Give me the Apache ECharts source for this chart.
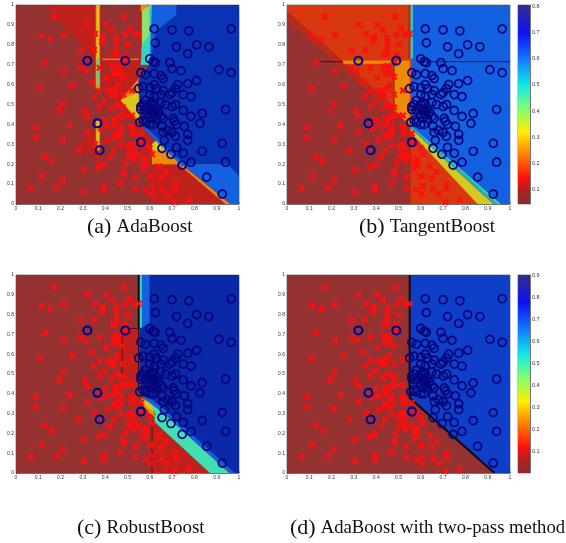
<!DOCTYPE html>
<html><head><meta charset="utf-8">
<style>html,body{margin:0;padding:0;background:#fff}#c{width:566px;height:543px}</style>
<script src="https://cdn.jsdelivr.net/npm/echarts@6/dist/echarts.min.js"></script>
</head><body><div id="c"></div>
<script>
const crosses=[[.17,.94],[.485,.94],[.32,.9],[.405,.9],[.43,.875],[.51,.88],[.115,.845],[.155,.83],[.215,.85],[.355,.855],[.39,.84],[.39,.825],[.385,.815],[.45,.835],[.45,.81],[.45,.79],[.45,.77],[.45,.755],[.49,.85],[.53,.85],[.55,.855],[.5,.8],[.29,.77],[.35,.775],[.435,.75],[.49,.75],[.5,.73],[.48,.72],[.13,.71],[.215,.67],[.29,.685],[.315,.67],[.375,.685],[.435,.69],[.45,.695],[.46,.685],[.45,.655],[.44,.66],[.46,.655],[.48,.64],[.405,.635],[.34,.61],[.255,.595],[.11,.58],[.46,.595],[.45,.58],[.52,.57],[.415,.57],[.43,.565],[.425,.55],[.44,.545],[.375,.565],[.35,.54],[.48,.55],[.21,.505],[.195,.47],[.31,.47],[.32,.44],[.395,.515],[.375,.49],[.43,.48],[.45,.5],[.47,.49],[.48,.485],[.4,.425],[.455,.435],[.44,.43],[.47,.44],[.5,.445],[.52,.445],[.48,.45],[.09,.385],[.09,.335],[.24,.395],[.32,.36],[.38,.38],[.41,.39],[.45,.41],[.44,.395],[.47,.39],[.47,.37],[.47,.355],[.46,.335],[.44,.35],[.44,.335],[.515,.39],[.525,.38],[.52,.35],[.53,.36],[.56,.355],[.21,.325],[.355,.3],[.28,.27],[.41,.32],[.47,.295],[.44,.27],[.51,.3],[.52,.3],[.53,.28],[.505,.285],[.57,.31],[.58,.3],[.6,.28],[.13,.24],[.16,.215],[.42,.235],[.395,.195],[.37,.185],[.305,.17],[.515,.25],[.505,.245],[.52,.235],[.53,.22],[.49,.205],[.53,.25],[.55,.24],[.58,.23],[.57,.21],[.585,.21],[.57,.175],[.585,.19],[.61,.25],[.48,.165],[.485,.15],[.535,.135],[.6,.14],[.605,.14],[.64,.19],[.67,.16],[.65,.13],[.115,.14],[.21,.12],[.185,.085],[.065,.08],[.305,.06],[.395,.09],[.395,.07],[.47,.105],[.535,.08],[.61,.09],[.58,.07],[.605,.05],[.655,.075],[.68,.05],[.715,.1],[.715,.075],[.71,.01],[.775,.02]];
const circles=[[.62,.88],[.7,.875],[.775,.87],[.965,.88],[.625,.81],[.72,.79],[.81,.8],[.865,.79],[.77,.755],[.6,.73],[.625,.71],[.615,.715],[.69,.71],[.7,.68],[.74,.67],[.91,.675],[.965,.66],[.56,.66],[.58,.65],[.62,.655],[.65,.645],[.66,.63],[.81,.62],[.77,.605],[.725,.6],[.715,.58],[.7,.56],[.55,.58],[.57,.59],[.6,.585],[.62,.6],[.63,.58],[.66,.57],[.65,.55],[.69,.55],[.75,.55],[.785,.54],[.6,.55],[.62,.54],[.58,.52],[.61,.51],[.56,.49],[.57,.5],[.6,.5],[.62,.5],[.65,.51],[.67,.5],[.7,.49],[.715,.5],[.56,.475],[.58,.47],[.6,.48],[.61,.47],[.62,.47],[.63,.48],[.6,.45],[.62,.45],[.64,.46],[.61,.43],[.63,.43],[.65,.44],[.66,.43],[.75,.47],[.835,.455],[.94,.475],[.785,.44],[.57,.42],[.555,.41],[.58,.41],[.6,.4],[.615,.4],[.705,.43],[.71,.415],[.72,.4],[.755,.39],[.825,.405],[.655,.39],[.68,.37],[.66,.36],[.7,.36],[.77,.35],[.715,.34],[.77,.32],[.665,.32],[.925,.305],[.72,.285],[.655,.28],[.695,.25],[.75,.255],[.835,.265],[.94,.21],[.785,.21],[.745,.195],[.855,.135],[.925,.05]];
const outliers=[[.32,.72],[.365,.405],[.375,.27],[.49,.72],[.56,.31]];
const barTicksB=[.1,.2,.3,.4,.5,.6,.7,.8];
const barTicksD=[.1,.2,.3,.4,.5,.6,.7,.8,.9];
const captions=[['(a)','AdaBoost'],['(b)','TangentBoost'],['(c)','RobustBoost'],['(d)','AdaBoost with two-pass method']];

const BR='#963131',RD='#bf201c',OR='#ee8a06',YE='#d8c81e',GN='#90e070',TE='#30d8c0',LB='#1360e0',DB='#0a32b4';
const regionsA=[
 [BR,[[0,0],[1,0],[1,1],[0,1]]],
 [RD,[[.13,1],[.355,1],[.355,.72]]],
 [RD,[[.38,.715],[.55,.715],[.55,.40],[.41,.55],[.38,.58]]],
 [BR,[[.38,.6],[.41,.55],[.38,.5]]],
 [BR,[[.38,.68],[.44,.68],[.38,.63]]],
 [OR,[[.47,.52],[.55,.63],[.55,.41]]],
 [YE,[[.47,.52],[.55,.56],[.55,.43]]],
 [RD,[[.25,.73],[.55,.73],[.55,.715],[.26,.715]]],
 [OR,[[.37,.73],[.55,.73],[.55,.725],[.37,.725]]],
 [RD,[[.35,.78],[.35,1],[.385,1],[.385,.58],[.35,.6]]],
 [OR,[[.358,1],[.376,1],[.376,.58],[.358,.58]]],
 [YE,[[.362,1],[.372,1],[.372,.6],[.362,.6]]],
 [TE,[[.364,.73],[.374,.73],[.374,.6],[.364,.6]]],
 [RD,[[.25,.27],[.355,.38],[.355,.25],[.33,.25]]],
 [RD,[[.355,.42],[.38,.42],[.38,.2],[.355,.2]]],
 [OR,[[.358,.42],[.376,.42],[.376,.27],[.358,.27]]],
 [YE,[[.362,.42],[.372,.42],[.372,.3],[.362,.3]]],
 [RD,[[.55,.41],[.55,.25],[.61,.25],[.61,.35]]],
 [RD,[[.61,0],[.61,.2],[.74,.2],[.94,0]]],
 [OR,[[.61,.2],[.745,.2],[.68,.27],[.61,.27]]],
 [YE,[[.61,.27],[.68,.27],[.63,.32],[.61,.3]]],
 [OR,[[.74,.2],[.96,0],[.94,0],[.73,.2]]],
 [OR,[[.55,.415],[.62,.34],[.63,.34],[.56,.41]]],
 [RD,[[.55,.73],[.565,.73],[.565,1],[.55,1]]],
 [OR,[[.56,1],[.59,1],[.58,.97],[.56,.97]]],
 [GN,[[.565,.97],[.6,1],[.6,.72],[.565,.72]]],
 [TE,[[.565,.8],[.6,.85],[.6,.7],[.56,.7]]],
 [TE,[[.6,1],[.615,1],[.615,.7],[.6,.7]]],
 [LB,[[.61,1],[.72,1],[.72,.95],[.63,.87],[.62,.6],[.6,.7]]],
 [DB,[[.63,.87],[.72,.95],[.72,1],[1,1],[1,.14],[.95,.2],[.745,.2],[.56,.41],[.55,.62],[.6,.7]]],
 [LB,[[.745,.2],[.95,.2],[1,.14],[1,0],[.965,0]]],
 [LB,[[.56,.41],[.58,.39],[.755,.2],[.745,.19],[.58,.37]]]
];
const regionsB=[
 ['#d9380f',[[0,0],[1,0],[1,1],[0,1]]],
 [BR,[[0,.92],[.55,.39],[.55,0],[0,0]]],
 ['#b82a1c',[[0,.97],[.55,.42],[.55,.39],[0,.92]]],
 ['#a8301c',[[.545,1],[.555,1],[.555,.73],[.545,.73]]],
 ['#a8301c',[[.545,.4],[.555,.4],[.555,0],[.545,0]]],
 [OR,[[.48,.72],[.55,.72],[.55,.40],[.48,.47]]],
 [OR,[[.25,.72],[.48,.72],[.48,.705],[.255,.705]]],
 [YE,[[.555,.36],[.855,0],[.925,0],[.555,.38]]],
 [TE,[[.555,.38],[.925,0],[.96,0],[.555,.4]]],
 ['#30a8a0',[[.555,.38],[.925,0],[.945,0],[.555,.39]]],
 [TE,[[.555,1],[.565,1],[.565,.73],[.555,.73]]],
 [LB,[[.565,1],[1,1],[1,0],[.96,0],[.56,.39],[.56,.73],[.565,.73]]]
];
const regionsC=[
 [BR,[[0,0],[1,0],[1,1],[0,1]]],
 [RD,[[.475,.73],[.55,.73],[.55,.41],[.475,.5]]],
 [RD,[[.61,0],[.61,.26],[.87,0]]],
 [TE,[[.555,1],[.565,1],[.565,.73],[.555,.73]]],
 [LB,[[.565,1],[.6,1],[.6,.7],[.565,.7]]],
 ['#0a28a8',[[.6,1],[1,1],[1,0],[.98,0],[.655,.33],[.56,.41],[.555,.73],[.6,.75]]],
 [LB,[[.575,.38],[.655,.3],[.96,0],[.98,0],[.655,.33],[.56,.41]]],
 ['#40e0b0',[[.58,.37],[.625,.3],[.62,.26],[.87,0],[.955,0],[.65,.31]]],
 [OR,[[.565,.38],[.61,.33],[.625,.28],[.59,.31],[.56,.36]]],
 [YE,[[.575,.37],[.61,.34],[.615,.31],[.58,.34]]]
];
const regionsD=[
 [BR,[[0,0],[1,0],[1,1],[0,1]]],
 ['#0f3fc8',[[.55,1],[1,1],[1,0],[.93,0],[.55,.38]]]
];
const linesA=[];
const linesC=[[.6,[[.475,.73],[.555,.73]]],[.6,[[.475,.73],[.475,.47]]],[.6,[[.61,.27],[.61,0]]],[1.8,[[.55,1],[.55,.73]]],[.9,[[.55,.73],[.55,.42]]]];
const linesB=[[.7,[[.15,.715],[.25,.715]]],[.7,[[.6,.715],[1,.715]]],[.6,[[.48,.72],[.48,.47]]]];
const linesD=[[2,[[.55,1],[.55,.38],[.93,0]]]];

const panels=[
 {l:16,t:5,w:223,h:199,r:regionsA,ln:linesA},
 {l:287,t:5,w:223,h:199,r:regionsB,ln:linesB},
 {l:16,t:275,w:223,h:198,r:regionsC,ln:linesC},
 {l:287,t:275,w:223,h:198,r:regionsD,ln:linesD}
];
const capPos=[[87,216],[359,216],[77,517],[290,517]];
const cross='path://M2.2,0 L5,2.8 L7.8,0 L10,2.2 L7.2,5 L10,7.8 L7.8,10 L5,7.2 L2.2,10 L0,7.8 L2.8,5 L0,2.2 Z';
const grid=[],xAxis=[],yAxis=[],series=[],title=[];
const lab={fontSize:5,color:'#333',fontFamily:'Liberation Sans',margin:2,formatter:v=>String(+v.toFixed(1))};
panels.forEach((p,i)=>{
 grid.push({left:p.l,top:p.t,width:p.w,height:p.h,show:true,borderColor:'#222',borderWidth:.5,backgroundColor:'transparent'});
 xAxis.push({gridIndex:i,type:'value',min:0,max:1,interval:.1,splitLine:{show:false},axisLine:{onZero:false,lineStyle:{color:'#222',width:.5}},axisTick:{inside:true,length:1.5,lineStyle:{color:'#222',width:.5}},axisLabel:lab});
 yAxis.push({gridIndex:i,type:'value',min:0,max:1,interval:.1,splitLine:{show:false},axisLine:{onZero:false,lineStyle:{color:'#222',width:.5}},axisTick:{inside:true,length:1.5,lineStyle:{color:'#222',width:.5}},axisLabel:lab});
 series.push({type:'custom',xAxisIndex:i,yAxisIndex:i,z:1,silent:true,clip:true,coordinateSystem:'cartesian2d',
  data:p.r.map((_,k)=>[k,0]),encode:{x:0,y:1},
  renderItem:(params,api)=>{const r=p.r[api.value(0)];
    return {type:'polygon',shape:{points:r[1].map(q=>api.coord(q))},style:{fill:r[0],stroke:r[0],lineWidth:.3}};}});
 if(p.ln.length) series.push({type:'custom',xAxisIndex:i,yAxisIndex:i,z:2,silent:true,clip:true,
  data:p.ln.map((_,k)=>[k,0]),encode:{x:0,y:1},
  renderItem:(params,api)=>{const r=p.ln[api.value(0)];
    return {type:'polyline',shape:{points:r[1].map(q=>api.coord(q))},style:{fill:null,stroke:'#140606',lineWidth:r[0]}};}});
 series.push({type:'scatter',xAxisIndex:i,yAxisIndex:i,z:3,silent:true,clip:false,data:crosses,symbol:cross,symbolSize:7,itemStyle:{color:'#fa1010',opacity:1}});
 series.push({type:'scatter',xAxisIndex:i,yAxisIndex:i,z:4,silent:true,clip:false,data:circles,symbol:'circle',symbolSize:8,itemStyle:{color:'rgba(0,0,0,0)',borderColor:'#05057a',borderWidth:1.7,opacity:1}});
 series.push({type:'scatter',xAxisIndex:i,yAxisIndex:i,z:4,silent:true,clip:false,data:outliers,symbol:'circle',symbolSize:8,itemStyle:{color:'rgba(0,0,0,0)',borderColor:'#00008c',borderWidth:2.1,opacity:1}});
 const c=captions[i];
 title.push({left:capPos[i][0],top:capPos[i][1],text:'{p|'+c[0]+'} {n|'+c[1]+'}',padding:0,textStyle:{fontWeight:'normal',rich:{p:{fontFamily:'Liberation Serif',fontSize:22,fontWeight:'normal',color:'#111'},n:{fontFamily:'Liberation Serif',fontSize:i==3?18.7:19,fontWeight:'normal',color:'#111'}}}});
});
const jetStops=[[0,'#8a2c30'],[.07,'#b02020'],[.13,'#ff1010'],[.25,'#ff8000'],[.36,'#ffee00'],[.48,'#80ff70'],[.6,'#10e8e8'],[.72,'#1080ff'],[.86,'#1010f0'],[1,'#303090']];
const bars=[
 {l:518,t:5,w:12,h:199,min:.044,max:.806,ticks:barTicksB},
 {l:518,t:275,w:12,h:198,min:.002,max:.903,ticks:barTicksD}
];
bars.forEach((b,j)=>{
 const i=panels.length+j;
 grid.push({left:b.l,top:b.t,width:b.w,height:b.h,show:true,borderColor:'#222',borderWidth:.5,backgroundColor:'transparent'});
 xAxis.push({gridIndex:i,type:'value',min:0,max:1,show:false});
 yAxis.push({gridIndex:i,type:'value',min:b.min,max:b.max,position:'right',splitLine:{show:false},
   axisLine:{show:true,onZero:false,lineStyle:{color:'#222',width:.5}},axisTick:{inside:true,length:1.5,lineStyle:{color:'#222',width:.5},customValues:b.ticks},
   axisLabel:{fontSize:5.5,color:'#333',fontFamily:'Liberation Sans',margin:2,customValues:b.ticks,formatter:v=>String(+(+v).toFixed(1))}});
 series.push({type:'custom',xAxisIndex:i,yAxisIndex:i,z:1,silent:true,data:[[0,b.min]],encode:{x:0,y:1},
  renderItem:(params,api)=>{const a=api.coord([0,b.max]),c=api.coord([1,b.min]);
   return {type:'rect',shape:{x:a[0],y:a[1],width:c[0]-a[0],height:c[1]-a[1]},
    style:{fill:new echarts.graphic.LinearGradient(0,1,0,0,jetStops.map(s=>({offset:s[0],color:s[1]})))}};}});
});
const chart=echarts.init(document.getElementById('c'),null,{renderer:'canvas'});
chart.setOption({animation:false,backgroundColor:'#fff',title,grid,xAxis,yAxis,series});
</script></body></html>
